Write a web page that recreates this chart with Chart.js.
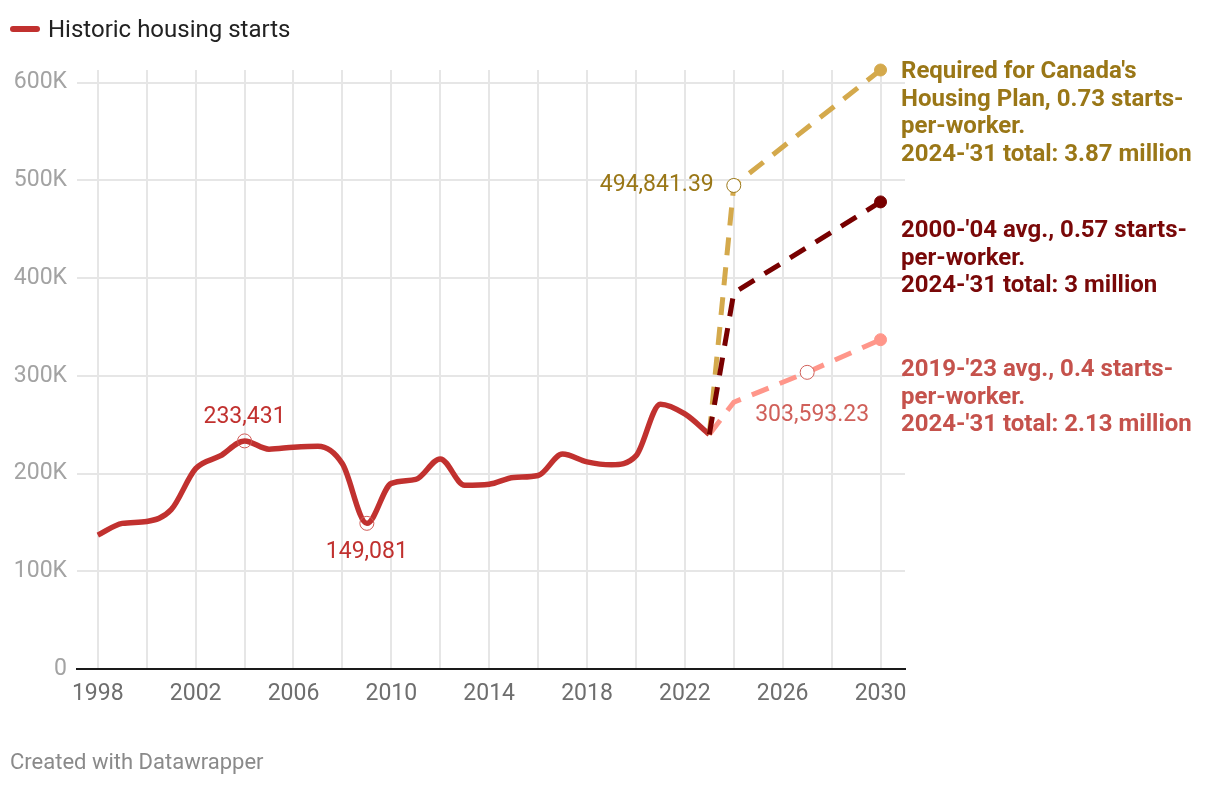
<!DOCTYPE html>
<html>
<head>
<meta charset="utf-8">
<script src="https://cdn.jsdelivr.net/npm/chart.js@4"></script>
<style>
  body { margin: 0; background: #fff; font-family: Roboto, sans-serif; }
  #wrap { position: relative; width: 1220px; height: 786px; }
  #c { position: absolute; left: 0; top: 0; }
  .legend { position: absolute; left: 10px; top: 15px; font-size: 24px; color: #222; }
  .legend .sw { display: inline-block; width: 30px; height: 6px; border-radius: 3px; background: #c1312f; vertical-align: middle; margin-right: 8px; position: relative; top: -2px; }
  .note { position: absolute; left: 901px; font-size: 24px; font-weight: bold; line-height: 27.7px; white-space: nowrap; }
  .foot { position: absolute; left: 10px; top: 749px; font-size: 22px; color: #8a8a8a; }
</style>
</head>
<body>
<div id="wrap">
  <canvas id="c" width="1220" height="786"></canvas>
  <div class="legend"><span class="sw"></span>Historic housing starts</div>
  <div class="note" style="top:57px;color:#9a7717">Required for Canada's<br>Housing Plan, 0.73 starts-<br>per-worker.<br>2024-'31 total: 3.87 million</div>
  <div class="note" style="top:216px;color:#790808">2000-'04 avg., 0.57 starts-<br>per-worker.<br>2024-'31 total: 3 million</div>
  <div class="note" style="top:355px;color:#c5524c">2019-'23 avg., 0.4 starts-<br>per-worker.<br>2024-'31 total: 2.13 million</div>
  <div class="foot">Created with Datawrapper</div>
</div>
<script>
// 연도별 실제 착공 (historic)
var histYears = [1998,1999,2000,2001,2002,2003,2004,2005,2006,2007,2008,2009,2010,2011,2012,2013,2014,2015,2016,2017,2018,2019,2020,2021,2022,2023];
var histValues = [137000,149000,151000,163000,205000,218000,233431,225000,227000,228000,210000,149081,190000,194000,215000,188000,189000,196000,198000,220000,212000,209000,218000,271000,261000,240000];

// 전망치 (projections)
var planYears = [2023,2024,2030];
var planValues = [240000,494841.39,613000];
var avg0004Years = [2023,2024,2030];
var avg0004Values = [240000,385000,478000];
var avg1923Years = [2023,2024,2027,2030];
var avg1923Values = [240000,273000,303593.23,337000];

var yTicks = [0,100000,200000,300000,400000,500000,600000];

function pts(xs, ys){
    return xs.map(function(x,i){ return {x:x, y:ys[i]}; });
}

// 값 라벨 (dataset index, point index, text, color, offsets)
var pointLabels = [
    {ds:0, i:6, text:'233,431', color:'#c1312f', dx:0, dy:-24, align:'center'},
    {ds:0, i:11, text:'149,081', color:'#c1312f', dx:0, dy:29, align:'center'},
    {ds:1, i:1, text:'494,841.39', color:'#9a7717', dx:-20, dy:0, align:'right'},
    {ds:3, i:2, text:'303,593.23', color:'#d0605a', dx:5, dy:43, align:'center'}
];

var labelPlugin = {
    id: 'labels',
    afterDatasetsDraw: function(chart){
        var ctx = chart.ctx;
        ctx.save();
        ctx.font = '23px Roboto';
        ctx.textBaseline = 'middle';
        pointLabels.forEach(function(l){
            var el = chart.getDatasetMeta(l.ds).data[l.i];
            ctx.fillStyle = l.color;
            ctx.textAlign = l.align;
            ctx.fillText(l.text, el.x + l.dx, el.y + l.dy);
        });
        ctx.restore();
    }
};

function markerRadius(list, r){
    return function(c){ return list.indexOf(c.dataIndex) >= 0 ? r : 0; };
}

var ctx = document.getElementById('c').getContext('2d');
var chart = new Chart(ctx, {
    type: 'line',
    data: {
        datasets: [{
            label: 'Historic housing starts',
            data: pts(histYears, histValues),
            borderColor: '#c1312f',
            borderWidth: 5.5,
            cubicInterpolationMode: 'monotone',
            pointRadius: markerRadius([6,11], 7),
            pointBorderWidth: 1,
            pointBorderColor: '#d05a56',
            pointBackgroundColor: 'rgba(255,255,255,0)',
            clip: false,
            order: 4
        },{
            label: 'plan',
            data: pts(planYears, planValues),
            borderColor: '#d4a94c',
            borderWidth: 5,
            borderDash: [18,12],
            tension: 0,
            pointRadius: function(c){ return c.dataIndex == 1 ? 7 : (c.dataIndex == 2 ? 6 : 0); },
            pointBorderWidth: 1,
            pointBorderColor: function(c){ return c.dataIndex == 1 ? '#9a7717' : '#d4a94c'; },
            pointBackgroundColor: function(c){ return c.dataIndex == 1 ? '#fff' : '#d4a94c'; },
            clip: false,
            order: 2
        },{
            label: 'avg0004',
            data: pts(avg0004Years, avg0004Values),
            borderColor: '#780000',
            borderWidth: 5,
            borderDash: [18,12],
            tension: 0,
            pointRadius: markerRadius([2], 6),
            pointBorderWidth: 1,
            pointBorderColor: '#780000',
            pointBackgroundColor: '#780000',
            clip: false,
            order: 1
        },{
            label: 'avg1923',
            data: pts(avg1923Years, avg1923Values),
            borderColor: '#ff968a',
            borderWidth: 5,
            borderDash: [18,12],
            tension: 0,
            pointRadius: function(c){ return c.dataIndex == 2 ? 7 : (c.dataIndex == 3 ? 6 : 0); },
            pointBorderWidth: 1,
            pointBorderColor: function(c){ return c.dataIndex == 2 ? '#d0605a' : '#ff968a'; },
            pointBackgroundColor: function(c){ return c.dataIndex == 2 ? '#fff' : '#ff968a'; },
            clip: false,
            order: 3
        }]
    },
    options: {
        responsive: false,
        animation: false,
        layout: { padding: { top: 70, right: 315, left: 0, bottom: 0 } },
        plugins: { legend: { display: false }, tooltip: { enabled: false } },
        scales: {
            x: {
                type: 'linear',
                min: 1997.15,
                max: 2031,
                afterBuildTicks: function(s){
                    var t = [];
                    for (var y = 1998; y <= 2030; y += 2) t.push({value: y});
                    s.ticks = t;
                },
                afterFit: function(s){ s.height = 117; },
                grid: { color: '#e6e6e6', lineWidth: 2, drawTicks: false },
                border: { display: true, color: '#1a1a1a', width: 2 },
                ticks: {
                    padding: 11,
                    color: '#6e6e6e',
                    font: { family: 'Roboto', size: 23 },
                    autoSkip: false,
                    maxRotation: 0,
                    callback: function(v){ return (v - 1998) % 4 == 0 ? String(v) : ''; }
                }
            },
            y: {
                min: 0,
                max: 613000,
                afterBuildTicks: function(s){
                    s.ticks = yTicks.map(function(v){ return {value: v}; });
                },
                afterFit: function(s){ s.width = 77; },
                grid: { color: '#e6e6e6', lineWidth: 2, drawTicks: false },
                border: { display: false },
                ticks: {
                    padding: 10,
                    color: '#a3a3a3',
                    font: { family: 'Roboto', size: 23 },
                    callback: function(v){ return v == 0 ? '0' : (v/1000) + 'K'; }
                }
            }
        }
    },
    plugins: [labelPlugin]
});
</script>
</body>
</html>
